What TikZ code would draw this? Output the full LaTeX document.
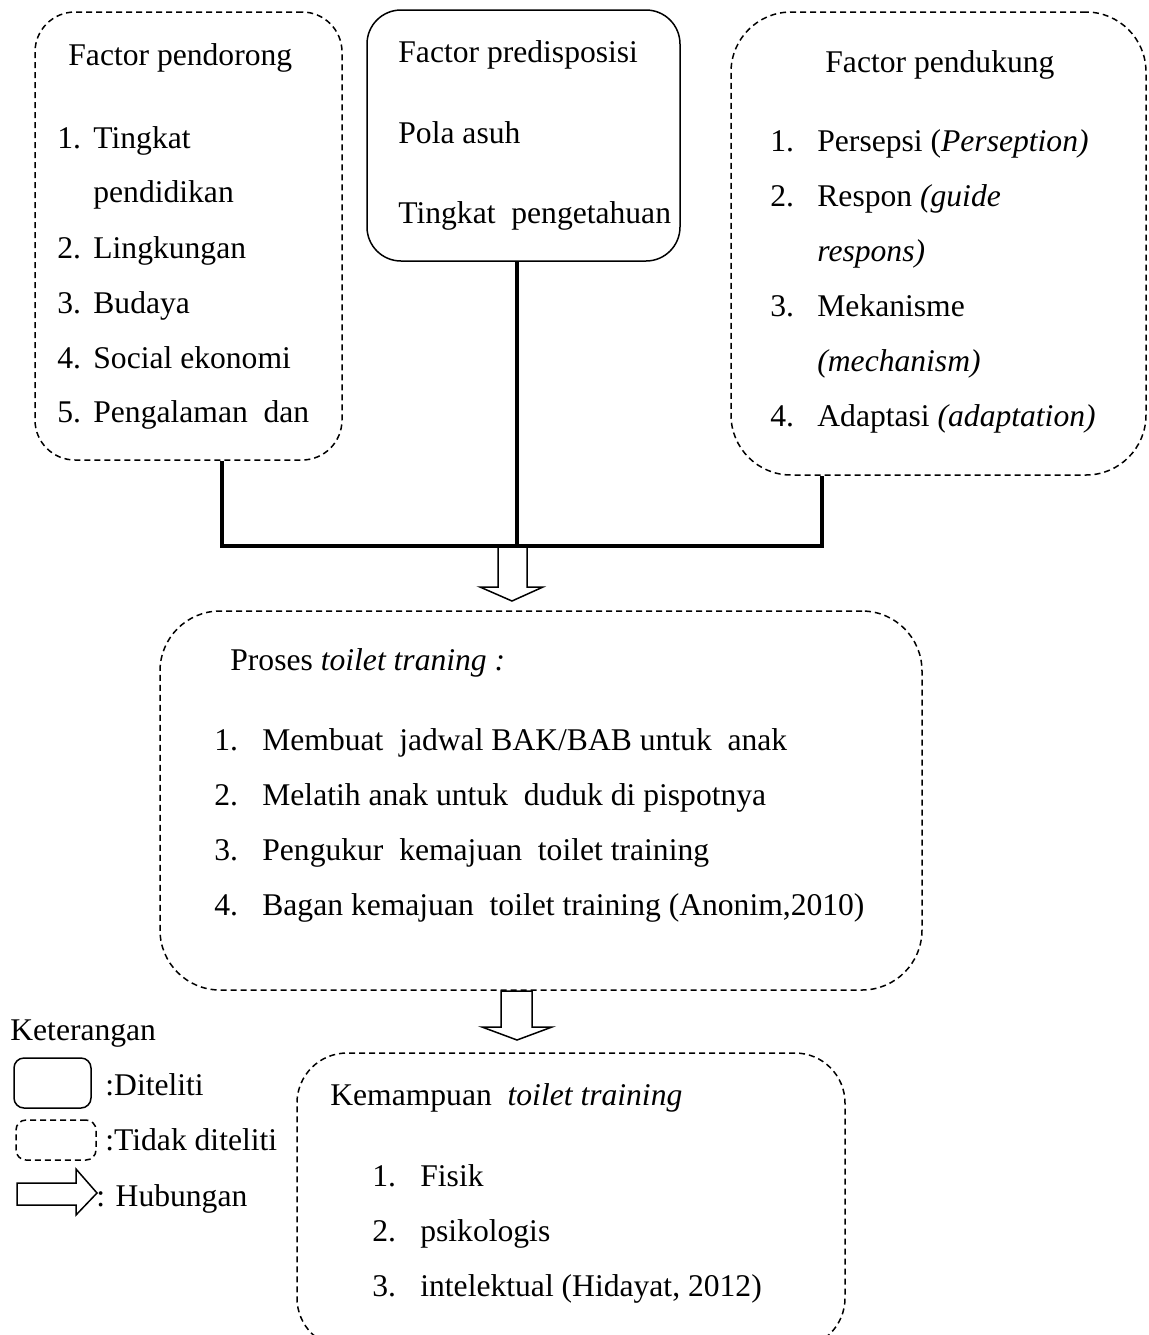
\documentclass[tikz,border=0pt]{standalone}
\usepackage{fontspec}
\setmainfont{Liberation Serif}
\usetikzlibrary{fit}

\tikzset{
  box/.style={draw, rounded corners=#1, line width=0.75pt, inner sep=0pt},
  dbox/.style={box=#1, dash pattern=on 3pt off 2pt},
  txt/.style={anchor=base west, inner sep=0pt, font=\fontsize{15.8}{19}\selectfont},
  link/.style={line width=2pt, line join=miter},
  hollow/.style={draw, line width=0.75pt, line join=miter},
}
\newcommand{\lnum}[2]{\makebox[#1][l]{#2}}

\begin{document}
\begin{tikzpicture}[x=0.5pt, y=-0.5pt]
\useasboundingbox (0,0) rectangle (1149,1335);
% Three factor boxes on top
\node[dbox=20pt, fit={(35,12) (342,460)}] (pendorong) {};
\node[box=17pt, fit={(367,10) (680,261)}] (predisposisi) {};
\node[dbox=30pt, fit={(731,12) (1146,475)}] (pendukung) {};
% Texts of the left box
\node[txt] (pd0) at (68,65) {Factor pendorong};
\node[txt] (pd1) at (57,148) {\lnum{18pt}{1.}Tingkat};
\node[txt] (pd1b) at (93,202) {pendidikan};
\node[txt] (pd2) at (57,258) {\lnum{18pt}{2.}Lingkungan};
\node[txt] (pd3) at (57,313) {\lnum{18pt}{3.}Budaya};
\node[txt] (pd4) at (57,368) {\lnum{18pt}{4.}Social ekonomi};
\node[txt] (pd5) at (57,422) {\lnum{18pt}{5.}Pengalaman\ \ dan};
% Texts of the middle box
\node[txt] (ps0) at (398,62) {Factor predisposisi};
\node[txt] (ps1) at (398,143) {Pola asuh};
\node[txt] (ps2) at (398,223) {Tingkat\ \ pengetahuan};
% Texts of the right box
\node[txt] (pk0) at (825,72) {Factor pendukung};
\node[txt] (pk1) at (770,151) {\lnum{23.5pt}{1.}Persepsi (\textit{Perseption)}};
\node[txt] (pk2) at (770,206) {\lnum{23.5pt}{2.}Respon \textit{(guide}};
\node[txt] (pk2b) at (817,261) {\textit{respons)}};
\node[txt] (pk3) at (770,316) {\lnum{23.5pt}{3.}Mekanisme};
\node[txt] (pk3b) at (817,371) {\textit{(mechanism)}};
\node[txt] (pk4) at (770,426) {\lnum{23.5pt}{4.}Adaptasi \textit{(adaptation)}};
% Lines joining the three boxes
\coordinate (jl) at (222,546);
\coordinate (jm) at (517,546);
\coordinate (jr) at (822,546);
\draw[hollow] (498,546) -- (498,587) -- (480,587) -- (512,601) -- (543,587) -- (527,587) -- (527,546);
\draw[link] (pendorong.south -| jl) -- (jl) -- (jr) -- (pendukung.south -| jr);
\draw[link] (predisposisi.south -| jm) -- (jm);
% Process box
\node[dbox=30pt, fit={(160,611) (922,990)}] (proses) {};
\node[txt] (pr0) at (230,670) {Proses \textit{toilet traning :}};
\node[txt] (pr1) at (214,750) {\lnum{24pt}{1.}Membuat\ \ jadwal BAK/BAB untuk\ \ anak};
\node[txt] (pr2) at (214,805) {\lnum{24pt}{2.}Melatih anak untuk\ \ duduk di pispotnya};
\node[txt] (pr3) at (214,860) {\lnum{24pt}{3.}Pengukur\ \ kemajuan\ \ toilet training};
\node[txt] (pr4) at (214,915) {\lnum{24pt}{4.}Bagan kemajuan\ \ toilet training (Anonim,2010)};
\draw[hollow] (501,991) -- (532,991) -- (532,1027) -- (552,1027) -- (517,1040) -- (482,1027) -- (501,1027) -- cycle;
% Ability box, runs past the bottom edge
\node[dbox=25pt, fit={(297,1053) (845,1348)}] (kemampuan) {};
\node[txt] (km0) at (330,1105) {Kemampuan\ \ \textit{toilet training}};
\node[txt] (km1) at (372,1186) {\lnum{24pt}{1.}Fisik};
\node[txt] (km2) at (372,1241) {\lnum{24pt}{2.}psikologis};
\node[txt] (km3) at (372,1296) {\lnum{24pt}{3.}intelektual\ (Hidayat, 2012)};
% Legend
\node[txt] (ket) at (10,1040) {Keterangan};
\node[box=5pt, fit={(14,1058) (91,1108)}] (keysolid) {};
\node[txt] (ket1) at (105,1095) {:Diteliti};
\node[dbox=5pt, fit={(16,1120) (96,1160)}] (keydash) {};
\node[txt] (ket2) at (105,1150) {:Tidak diteliti};
\draw[hollow] (17,1183) -- (76,1183) -- (76,1169) -- (97,1193) -- (76,1215) -- (76,1205) -- (17,1205) -- cycle;
\node[txt] (ket3) at (96,1206) {: Hubungan};
\end{tikzpicture}
\end{document}
